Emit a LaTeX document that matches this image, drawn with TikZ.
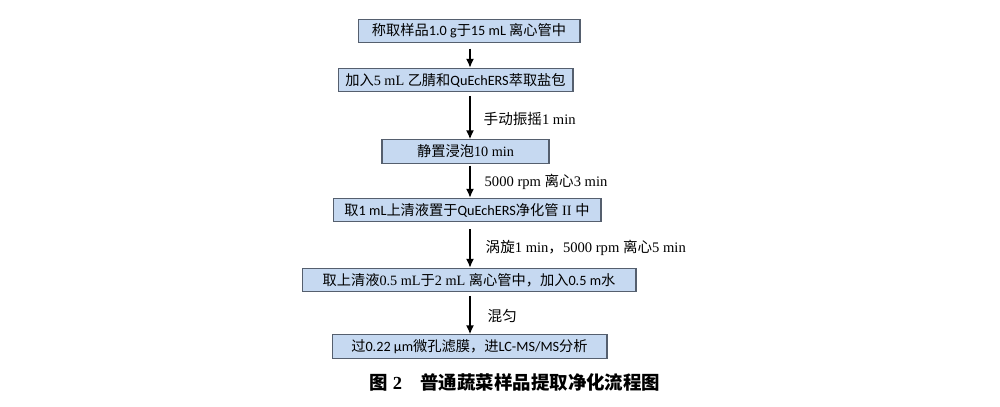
\documentclass[tikz,border=0pt]{standalone}
\usepackage{fontspec}
\setmainfont{Liberation Serif}
\newfontfamily\cjk{Noto Sans CJK SC}
\newfontfamily\calf{Carlito}
\usetikzlibrary{arrows.meta}
\definecolor{boxfill}{RGB}{198,217,241}
\definecolor{boxline}{RGB}{85,95,110}
\tikzset{
  stepbox/.style={draw=boxline, fill=boxfill, line width=0.6pt, minimum height=0.47cm,
    inner sep=0pt, font=\fontsize{8.1}{9}\selectfont},
  flow/.style={line width=0.8pt, -{Latex[length=5pt,width=4.5pt]}},
  note/.style={right, inner sep=0pt, yshift=-0.06cm, font=\fontsize{8.3}{9}\selectfont}
}
\begin{document}
\begin{tikzpicture}[x=0.02cm, y=-0.02cm]
    \useasboundingbox (0,0) rectangle (1000,406);
    \coordinate (spine) at (470,0);

    % Draw boxes
    \node[stepbox, minimum width=4.44cm] (weigh) at (469,31)
        {{\cjk 称取样品}{\calf 1.0 g}{\cjk 于}{\calf 15 mL }{\cjk 离心管中}};
    \node[stepbox, minimum width=4.70cm] (extract) at (455.5,80)
        {{\cjk 加入}5 mL {\cjk 乙腈和}{\calf QuEchERS}{\cjk 萃取盐包}};
    \node[stepbox, minimum width=3.34cm] (soak) at (465.5,151.5)
        {{\cjk 静置浸泡}10 min};
    \node[stepbox, minimum width=5.36cm] (clean) at (467,210)
        {{\cjk 取}{\calf 1 mL}{\cjk 上清液置于}{\calf QuEchERS}{\cjk 净化管} II {\cjk 中}};
    \node[stepbox, minimum width=6.68cm] (dilute) at (469,280)
        {{\cjk 取上清液}0.5 mL{\cjk 于}2 mL {\cjk 离心管中，加入}{\calf 0.5 m}{\cjk 水}};
    \node[stepbox, minimum width=5.50cm] (filter) at (469.5,346.5)
        {{\cjk 过}{\calf 0.22 µm}{\cjk 微孔滤膜，进}{\calf LC-MS/MS}{\cjk 分析}};

    % Draw arrows
    \draw[flow, shorten <=3pt] (weigh.south -| spine) -- (extract.north -| spine);
    \draw[flow, shorten <=2pt] (extract.south -| spine) -- (soak.north -| spine)
        node[note, pos=0.5, xshift=0.26cm] {{\cjk 手动振摇}1 min};
    \draw[flow, shorten <=1pt] (soak.south -| spine) -- (clean.north -| spine)
        node[note, pos=0.45, xshift=0.28cm] {5000 rpm {\cjk 离心}3 min};
    \draw[flow, shorten <=4pt] (clean.south -| spine) -- (dilute.north -| spine)
        node[note, pos=0.5, xshift=0.30cm] {{\cjk 涡旋}1 min{\cjk ，}5000 rpm {\cjk 离心}5 min};
    \draw[flow, shorten <=2pt] (dilute.south -| spine) -- (filter.north -| spine)
        node[note, pos=0.5, xshift=0.34cm] {{\cjk 混匀}};

    % Caption
    \node[font=\fontsize{10.5}{12}\selectfont\bfseries] (caption) at (515,382)
        {{\cjk 图} 2\quad{\cjk 普通蔬菜样品提取净化流程图}};
\end{tikzpicture}
\end{document}
